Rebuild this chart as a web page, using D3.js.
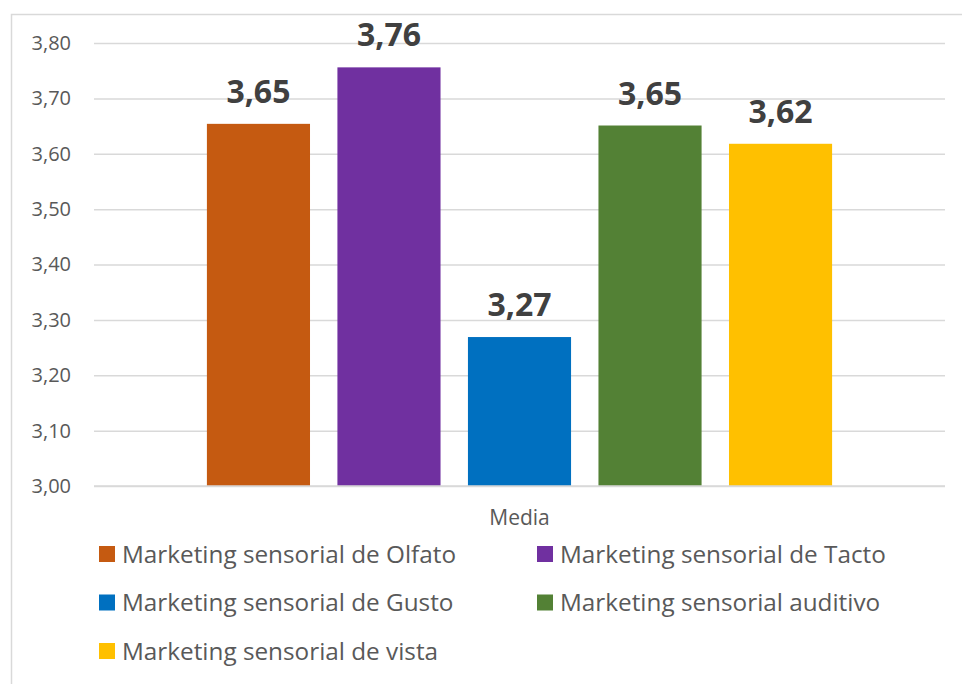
<!DOCTYPE html>
<html>
<head>
<meta charset="utf-8">
<script src="https://cdn.jsdelivr.net/npm/d3@7"></script>
<style>
  body { margin: 0; background: #fff; }
  svg { display: block; font-family: "Open Sans", sans-serif; }
</style>
</head>
<body>
<svg id="canvas" width="962" height="684"></svg>
<script>
/********** Data **********/
var category = ["Media"];
var series = [
    "Marketing sensorial de Olfato",
    "Marketing sensorial de Tacto",
    "Marketing sensorial de Gusto",
    "Marketing sensorial auditivo",
    "Marketing sensorial de vista"
];
var values = [3.654, 3.756, 3.269, 3.651, 3.618];
var colors = ["#c55a11", "#7030a0", "#0070c0", "#538135", "#ffc000"];
var yTicks = [3.0, 3.1, 3.2, 3.3, 3.4, 3.5, 3.6, 3.7, 3.8];

/********** Setup **********/
var svg = d3.select("#canvas");
var width = +svg.attr("width");
var height = +svg.attr("height");

var plot = {left: 94, right: 945, top: 43, bottom: 486};

svg.append("rect")
    .attr("x", 11.5).attr("y", 14.5)
    .attr("width", 960).attr("height", 680)
    .attr("fill", "none")
    .attr("stroke", "#d9d9d9")
    .attr("stroke-width", 1.5);

var y = d3.scaleLinear()
    .domain([3.0, 3.8])
    .range([plot.bottom, plot.top]);

var x0 = d3.scaleBand()
    .domain(category)
    .range([plot.left, plot.right])
    .padding(0);

var x1 = d3.scaleBand()
    .domain(series)
    .range([0, x0.bandwidth()])
    .paddingInner(0.21)
    .paddingOuter(0.865);

var fmt = function(v) { return d3.format(".2f")(v).replace(".", ","); };

/********** Grid & axis **********/
var yAxis = d3.axisLeft(y)
    .tickValues(yTicks)
    .tickSize(-(plot.right - plot.left))
    .tickPadding(23)
    .tickFormat(fmt);

var ga = svg.append("g")
    .attr("transform", "translate(" + plot.left + ",0)")
    .call(yAxis);
ga.select(".domain").remove();
ga.selectAll(".tick line")
    .attr("stroke", "#d9d9d9")
    .attr("stroke-width", 1.5);
ga.selectAll(".tick text")
    .attr("fill", "#595959")
    .attr("font-size", 20)
    .attr("font-family", "Open Sans, sans-serif");

/********** Bars **********/
var g = svg.append("g")
    .attr("transform", "translate(" + x0(category[0]) + ",0)");

g.selectAll("rect")
    .data(values)
    .enter()
    .append("rect")
    .attr("x", function(d, i) { return x1(series[i]); })
    .attr("y", function(d) { return y(d); })
    .attr("width", x1.bandwidth())
    .attr("height", function(d) { return y(3.0) - y(d); })
    .attr("fill", function(d, i) { return colors[i]; });

g.selectAll("text.lbl")
    .data(values)
    .enter()
    .append("text")
    .attr("class", "lbl")
    .attr("x", function(d, i) { return x1(series[i]) + x1.bandwidth() / 2; })
    .attr("y", function(d) { return y(d) - 21; })
    .attr("text-anchor", "middle")
    .attr("font-size", 32)
    .attr("font-weight", "bold")
    .attr("fill", "#404040")
    .text(fmt);

// baseline
svg.append("line")
    .attr("x1", plot.left).attr("x2", plot.right)
    .attr("y1", y(3.0)).attr("y2", y(3.0))
    .attr("stroke", "#d9d9d9")
    .attr("stroke-width", 1.5);

svg.append("text")
    .attr("x", x0(category[0]) + x0.bandwidth() / 2)
    .attr("y", 525)
    .attr("text-anchor", "middle")
    .attr("font-size", 21)
    .attr("fill", "#595959")
    .text(category[0]);

/********** Legend **********/
var legend = svg.append("g");
var item = legend.selectAll("g")
    .data(series)
    .enter()
    .append("g")
    .attr("transform", function(d, i) {
        var col = i % 2, row = Math.floor(i / 2);
        return "translate(" + (99 + col * 438) + "," + (546 + row * 48.5) + ")";
    });

item.append("rect")
    .attr("width", 16).attr("height", 16)
    .attr("fill", function(d, i) { return colors[i]; });

item.append("text")
    .attr("x", 23)
    .attr("y", 8)
    .attr("dy", "0.36em")
    .attr("font-size", 24.3)
    .attr("fill", "#595959")
    .text(function(d) { return d; });
</script>
</body>
</html>
